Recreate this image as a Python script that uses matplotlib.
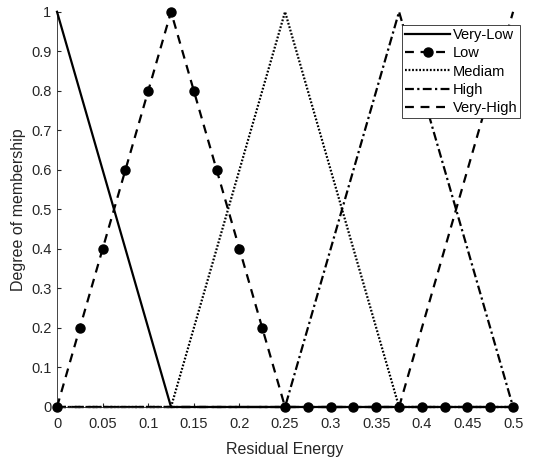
import numpy as np
import matplotlib
matplotlib.use("Agg")
import matplotlib.pyplot as plt

plt.rcParams['font.family'] = ['Liberation Sans', 'DejaVu Sans']

# sample points (step 0.025)
energy = [0, 0.025, 0.05, 0.075, 0.1, 0.125, 0.15, 0.175, 0.2, 0.225, 0.25,
          0.275, 0.3, 0.325, 0.35, 0.375, 0.4, 0.425, 0.45, 0.475, 0.5]
very_low = [1, 0.8, 0.6, 0.4, 0.2, 0, 0, 0, 0, 0, 0,
            0, 0, 0, 0, 0, 0, 0, 0, 0, 0]
low = [0, 0.2, 0.4, 0.6, 0.8, 1, 0.8, 0.6, 0.4, 0.2, 0,
       0, 0, 0, 0, 0, 0, 0, 0, 0, 0]
medium = [0, 0, 0, 0, 0, 0, 0.2, 0.4, 0.6, 0.8, 1,
          0.8, 0.6, 0.4, 0.2, 0, 0, 0, 0, 0, 0]
high = [0, 0, 0, 0, 0, 0, 0, 0, 0, 0, 0,
        0.2, 0.4, 0.6, 0.8, 1, 0.8, 0.6, 0.4, 0.2, 0]
very_high = [0, 0, 0, 0, 0, 0, 0, 0, 0, 0, 0,
             0, 0, 0, 0, 0, 0.2, 0.4, 0.6, 0.8, 1]

xticks = [0, 0.05, 0.1, 0.15, 0.2, 0.25, 0.3, 0.35, 0.4, 0.45, 0.5]
yticks = [0, 0.1, 0.2, 0.3, 0.4, 0.5, 0.6, 0.7, 0.8, 0.9, 1]

fig = plt.figure(figsize=(5.41, 4.59), dpi=100)
ax = fig.add_axes([0.1054, 0.1133, 0.843, 0.861])

lw = 1.6
ax.plot(energy, very_low, "k-", lw=lw, label="Very-Low", zorder=3, clip_on=False)
ax.plot(energy, low, color="k", ls=(0, (4, 3)), lw=lw, marker="o", ms=6.5,
        label="Low", zorder=4, clip_on=False)
ax.plot(energy, medium, color="k", ls=(0, (0.8, 0.8)), lw=lw, label="Mediam",
        clip_on=False)
ax.plot(energy, high, color="k", ls=(0, (4, 1.5, 1, 1.5)), lw=lw, label="High",
        clip_on=False)
ax.plot(energy, very_high, color="k", ls=(0, (4, 3)), lw=lw, label="Very-High",
        clip_on=False)

ax.set_xlim(0, 0.5)
ax.set_ylim(0, 1)
ax.set_xticks(xticks)
ax.set_xticklabels(["0", "0.05", "0.1", "0.15", "0.2", "0.25", "0.3",
                    "0.35", "0.4", "0.45", "0.5"])
ax.set_yticks(yticks)
ax.set_yticklabels(["0", "0.1", "0.2", "0.3", "0.4", "0.5", "0.6",
                    "0.7", "0.8", "0.9", "1"])
ax.tick_params(direction="in", labelsize=10.5, colors="#262626", length=3)
ax.tick_params(axis="x", pad=7)
ax.tick_params(axis="y", pad=4)
for side in ("top", "right"):
    ax.spines[side].set_visible(False)
for side in ("left", "bottom"):
    ax.spines[side].set_color("#262626")
    ax.spines[side].set_linewidth(0.6)
ax.set_xlabel("Residual Energy", fontsize=11.5, color="#262626", labelpad=8)
ax.set_ylabel("Degree of membership", fontsize=11.5, color="#262626", labelpad=4)

leg = ax.legend(loc="upper left", bbox_to_anchor=(0.757, 0.967), fontsize=10.5,
                handlelength=3.1, handletextpad=0.15, labelspacing=0.3,
                borderpad=0.2, borderaxespad=0, fancybox=False, framealpha=1)
leg.get_frame().set_edgecolor("#262626")
leg.get_frame().set_linewidth(0.6)
leg.set_zorder(5)

fig.savefig("out.png", dpi=100)
